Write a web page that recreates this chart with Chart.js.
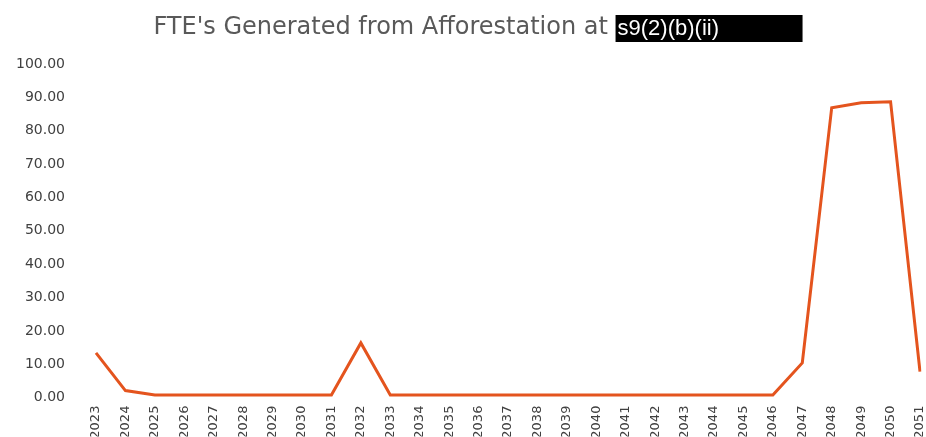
<!DOCTYPE html>
<html>
<head>
<meta charset="utf-8">
<script src="https://cdn.jsdelivr.net/npm/chart.js@4/dist/chart.umd.min.js"></script>
<style>
    html, body { margin: 0; padding: 0; background: #ffffff; }
    #wrap { width: 926px; height: 437px; position: relative; }
</style>
</head>
<body>
<div id="wrap"><canvas id="fteChart" width="926" height="437"></canvas></div>
<script>
const years = ['2023', '2024', '2025', '2026', '2027', '2028', '2029', '2030', '2031', '2032',
    '2033', '2034', '2035', '2036', '2037', '2038', '2039', '2040', '2041', '2042',
    '2043', '2044', '2045', '2046', '2047', '2048', '2049', '2050', '2051'];
const fteValues = [13.4, 2.1, 0.8, 0.8, 0.8, 0.8, 0.8, 0.8, 0.8, 16.4,
    0.8, 0.8, 0.8, 0.8, 0.8, 0.8, 0.8, 0.8, 0.8, 0.8,
    0.8, 0.8, 0.8, 0.8, 10.4, 86.9, 88.4, 88.7, 7.8];
const titleText = "FTE's Generated from Afforestation at ";
const redactedText = 's9(2)(b)(ii)';

// Title with the black redaction box after it
const redactedTitlePlugin = {
    id: 'redactedTitle',
    afterDraw(chart) {
        const ctx = chart.ctx;
        ctx.save();
        ctx.font = '24px "DejaVu Sans"';
        const mainWidth = ctx.measureText(titleText).width;
        const boxWidth = 187;
        const total = mainWidth + boxWidth;
        const startX = 478 - total / 2;
        const midY = 28;

        ctx.fillStyle = '#595959';
        ctx.textBaseline = 'middle';
        ctx.fillText(titleText, startX, midY);

        const boxX = startX + mainWidth;
        ctx.fillStyle = '#000000';
        ctx.fillRect(boxX, 15, boxWidth, 27);
        ctx.fillStyle = '#ffffff';
        ctx.font = '22px "Liberation Sans"';
        ctx.fillText(redactedText, boxX + 2, midY + 1);
        ctx.restore();
    },
};

const ctx = document.getElementById('fteChart').getContext('2d');
new Chart(ctx, {
    type: 'line',
    data: {
        labels: years,
        datasets: [
            {
                label: 'FTE',
                data: fteValues,
                borderColor: '#E4541E',
                borderWidth: 3,
                pointRadius: 0,
                tension: 0,
                fill: false,
            },
        ],
    },
    options: {
        responsive: false,
        animation: false,
        layout: {
            padding: { top: 64, right: 6, bottom: 0, left: -15 },
        },
        plugins: {
            legend: { display: false },
            tooltip: { enabled: false },
            title: { display: false },
        },
        scales: {
            x: {
                offset: false,
                grid: { display: false, drawTicks: false },
                border: { display: false },
                afterFit: (scale) => {
                    // let the last year sit near the right edge and the labels run off the bottom, like the original
                    scale.paddingRight = 0;
                    scale.paddingLeft = 0;
                    scale.height = 39;
                },
                ticks: {
                    autoSkip: false,
                    minRotation: 90,
                    maxRotation: 90,
                    padding: 8,
                    color: '#404040',
                    font: { family: 'DejaVu Sans', size: 13 },
                },
            },
            y: {
                min: 0,
                max: 100,
                grid: { display: false, drawTicks: false },
                border: { display: false },
                ticks: {
                    stepSize: 10,
                    padding: 31,
                    color: '#404040',
                    font: { family: 'DejaVu Sans', size: 14 },
                    callback: (value) => value.toFixed(2),
                },
            },
        },
    },
    plugins: [redactedTitlePlugin],
});
</script>
</body>
</html>
